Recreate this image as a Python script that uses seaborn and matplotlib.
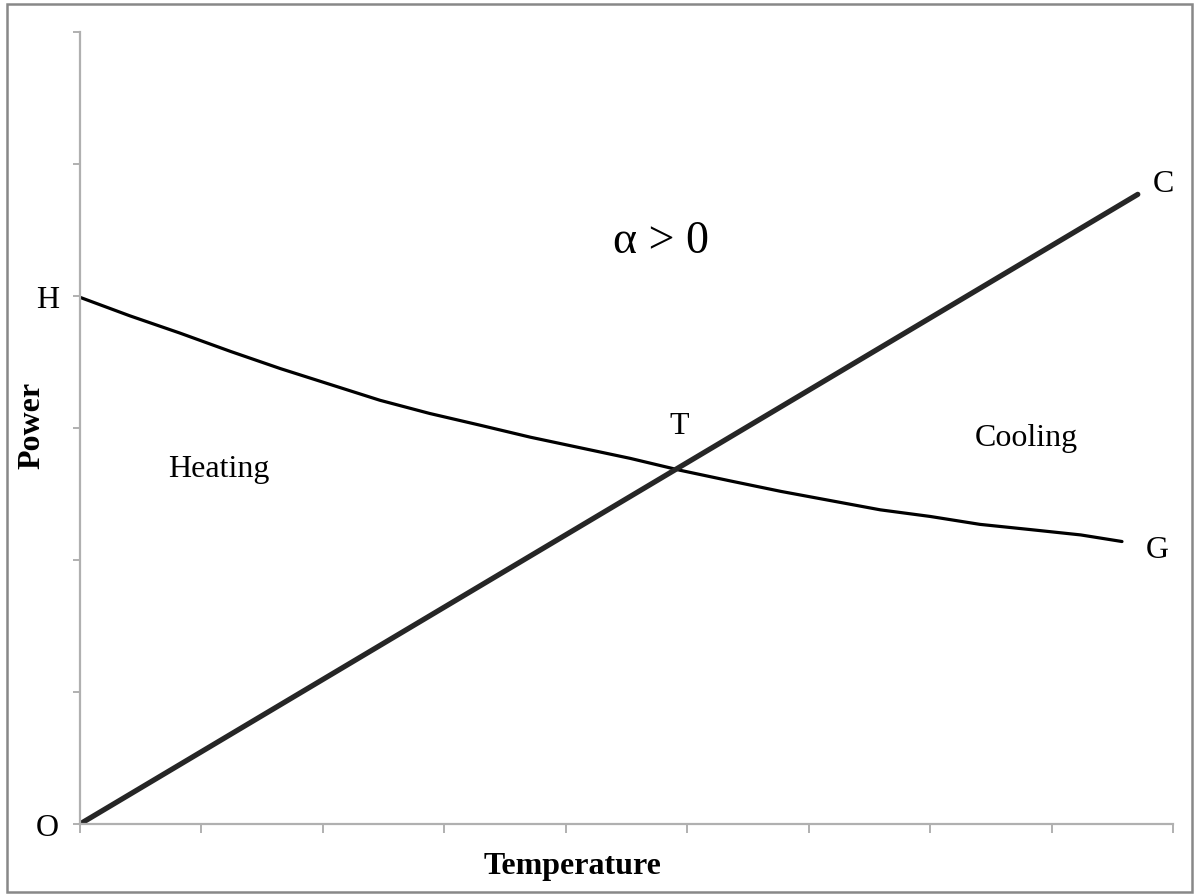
import matplotlib
matplotlib.use("Agg")
import matplotlib.pyplot as plt
import seaborn as sns
import pandas as pd
from matplotlib.patches import Rectangle

# values
cool_x = [0.0, 8.71]
cool_y = [0.0, 4.77]
gen_x = [0.0, 0.41, 0.82, 1.24, 1.65, 2.06, 2.47, 2.88, 3.30, 3.71, 4.12,
         4.53, 4.94, 5.35, 5.77, 6.18, 6.59, 7.00, 7.41, 7.83, 8.24, 8.58]
gen_y = [3.99, 3.85, 3.72, 3.58, 3.45, 3.33, 3.21, 3.11, 3.02, 2.93, 2.85,
         2.77, 2.68, 2.60, 2.52, 2.45, 2.38, 2.33, 2.27, 2.23, 2.19, 2.14]
y_ticks = [0, 1, 2, 3, 4, 5, 6]
y_tick_labels = ["O", "", "", "", "H", "", ""]
x_ticks = list(range(10))

sns.set_theme(style="white")
plt.rcParams["font.family"] = ["Liberation Serif", "DejaVu Serif"]
plt.rcParams.update({"text.color": "black", "axes.labelcolor": "black",
                     "ytick.labelcolor": "black", "xtick.labelcolor": "black"})

fig = plt.figure(figsize=(11.97, 8.95), dpi=100)
ax = fig.add_axes([80 / 1197, 1 - 825 / 895, 1093 / 1197, 792 / 895])

df_cool = pd.DataFrame({"x": cool_x, "y": cool_y})
df_gen = pd.DataFrame({"x": gen_x, "y": gen_y})
sns.lineplot(data=df_gen, x="x", y="y", sort=False, color="black", lw=2.3, ax=ax)
sns.lineplot(data=df_cool, x="x", y="y", sort=False, color="#262626", lw=3.8,
             solid_capstyle="round", ax=ax)

ax.set_xlim(0, 9)
ax.set_ylim(0, 6)
ax.set_xticks(x_ticks)
ax.set_xticklabels([])
ax.set_yticks(y_ticks)
ax.set_yticklabels(y_tick_labels, fontsize=23)
ax.tick_params(axis="y", direction="out", length=5, width=1.4, color="#b0b0b0",
               labelcolor="black", left=True, pad=10)
ax.tick_params(axis="x", direction="out", length=6.5, width=1.4, color="#b0b0b0",
               bottom=True)
for side in ["top", "right"]:
    ax.spines[side].set_visible(False)
for side in ["left", "bottom"]:
    ax.spines[side].set_color("#b0b0b0")
    ax.spines[side].set_linewidth(1.6)

ax.set_xlabel("Temperature", fontsize=23, fontweight="bold", color="black")
ax.set_ylabel("Power", fontsize=23, fontweight="bold", color="black")
ax.xaxis.set_label_coords(0.451, -0.053)
ax.yaxis.set_label_coords(-0.044, 0.5045)
ax.xaxis.label.set_va("center")
ax.yaxis.label.set_va("center")

txt = dict(ha="center", va="center", fontsize=23, color="black")
ax.text(4.93, 3.02, "T", **txt)
ax.text(8.92, 4.85, "C", **txt)
ax.text(8.87, 2.08, "G", **txt)
ax.text(1.14, 2.69, "Heating", **txt)
ax.text(7.79, 2.93, "Cooling", **txt)
ax.text(4.78, 4.42, "α > 0", ha="center", va="center", fontsize=33, color="black")

fig.patches.append(Rectangle((7 / 1197, 2 / 895), 1185 / 1197, 888 / 895,
                             transform=fig.transFigure, fill=False,
                             edgecolor="#888888", lw=1.8))

fig.savefig("out.png", dpi=100)
